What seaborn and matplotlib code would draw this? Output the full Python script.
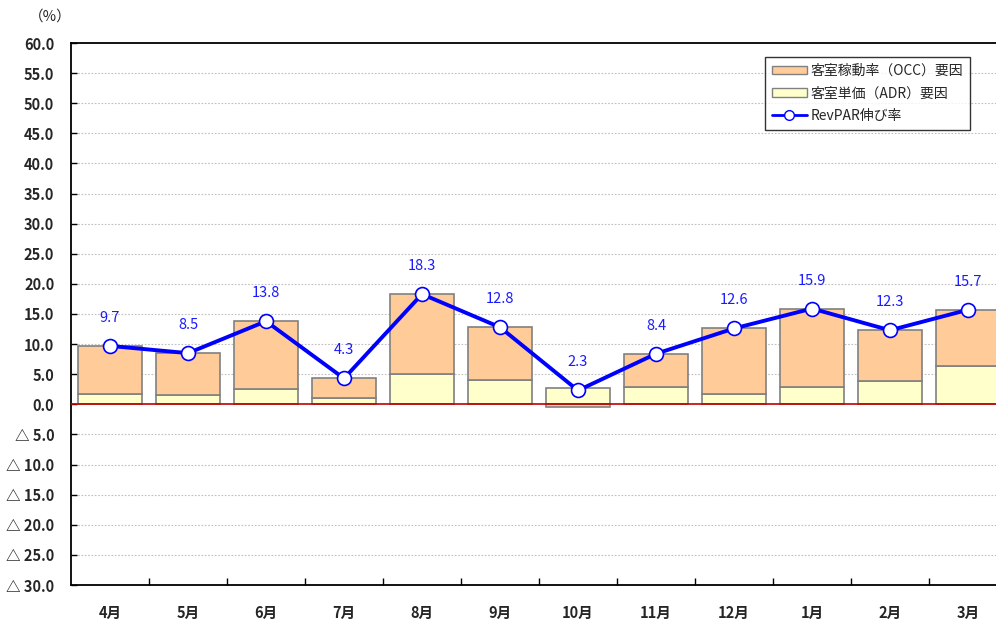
import matplotlib
matplotlib.use("Agg")
import matplotlib.pyplot as plt
import seaborn as sns
import numpy as np
import pandas as pd
from matplotlib.ticker import FuncFormatter
from matplotlib.patches import Patch
from matplotlib.lines import Line2D

months = ["4月", "5月", "6月", "7月", "8月", "9月", "10月", "11月", "12月", "1月", "2月", "3月"]
adr = [1.7, 1.6, 2.5, 1.1, 5.1, 4.1, 2.7, 2.8, 1.7, 2.8, 3.9, 6.3]
occ = [8.0, 6.9, 11.3, 3.2, 13.2, 8.7, -0.4, 5.6, 10.9, 13.1, 8.4, 9.4]
revpar = [9.7, 8.5, 13.8, 4.3, 18.3, 12.8, 2.3, 8.4, 12.6, 15.9, 12.3, 15.7]
yticks = np.arange(-30, 61, 5)

sns.set_theme(style="white")
plt.rcParams['font.family'] = ['Noto Sans CJK JP', 'DejaVu Sans']
plt.rcParams['xtick.direction'] = 'in'
plt.rcParams['ytick.direction'] = 'in'

fig = plt.figure(figsize=(9.96, 6.23), dpi=100)
ax = fig.add_axes([71/996, 1-585/623, 936/996, (585-43)/623])

df = pd.DataFrame({"month": months, "adr": adr, "occ": occ, "revpar": revpar})
bottoms = np.where(np.array(occ) >= 0, np.array(adr), 0.0)

sns.barplot(data=df, x="month", y="adr", color="#FFFFCC", edgecolor="#808080",
            linewidth=1.2, width=0.83, saturation=1, ax=ax, zorder=2)
sns.barplot(data=df, x="month", y="occ", color="#FFCC99", edgecolor="#808080",
            linewidth=1.2, width=0.83, saturation=1, ax=ax, bottom=bottoms, zorder=2)

xs = np.arange(len(months))
ax.plot(xs, revpar, color="#0000FF", lw=2.8, marker="o", markersize=10,
        markerfacecolor="white", markeredgecolor="#0000FF", markeredgewidth=1.2, zorder=5)
for x, v in zip(xs, revpar):
    ax.annotate(f"{v:.1f}", (x, v), xytext=(0, 21), textcoords="offset pixels",
                ha="center", va="bottom", color="#1A1AFF", fontsize=10.5)

ax.axhline(0, color="#C00000", lw=1.2, zorder=3)
ax.set_ylim(-30, 60)
ax.set_xlim(-0.5, 11.5)
ax.set_yticks(yticks)
ax.yaxis.set_major_formatter(FuncFormatter(lambda v, p: f"{v:.1f}" if v >= 0 else f"△ {abs(v):.1f}"))
for y in yticks:
    if y not in (0, 60, -30):
        ax.axhline(y, color="#BFBFBF", lw=0.8, ls=(0, (1.5, 1.5)), zorder=0)

ax.set_xticks(xs)
ax.set_xticklabels(months, fontweight="bold", fontsize=10.5)
ax.set_xticks(np.arange(0.5, 11.5, 1), minor=True)
ax.tick_params(axis="x", which="major", length=0, pad=14)
ax.tick_params(axis="x", which="minor", direction="in", length=5, width=1, color="black", bottom=True)
ax.tick_params(axis="y", direction="in", length=4, width=1, color="black", left=True, labelsize=10.5, pad=12)
for lab in ax.get_yticklabels():
    lab.set_fontweight("bold")
ax.set_xlabel("")
ax.set_ylabel("")

for s in ["left", "bottom", "top"]:
    ax.spines[s].set_visible(True)
    ax.spines[s].set_color("black")
    ax.spines[s].set_linewidth(1.3)
ax.spines["right"].set_visible(False)

fig.text(50/996, 1-17/623, "（%）", ha="center", va="center", fontsize=10.5)

handles = [Patch(facecolor="#FFCC99", edgecolor="#808080", lw=1),
           Patch(facecolor="#FFFFCC", edgecolor="#808080", lw=1),
           Line2D([0], [0], color="#0000FF", lw=2, marker="o", markersize=7,
                  markerfacecolor="white", markeredgecolor="#0000FF")]
leg = ax.legend(handles, ["客室稼動率（OCC）要因", "客室単価（ADR）要因", "RevPAR伸び率"],
                loc="upper left", bbox_to_anchor=(765/996, 1-57/623), bbox_transform=fig.transFigure,
                borderaxespad=0, frameon=True, fancybox=False, fontsize=10, handlelength=2.5,
                handleheight=0.6, borderpad=0.5, labelspacing=0.6, handletextpad=0.3)
leg.get_frame().set_edgecolor("black")
leg.get_frame().set_linewidth(1)

fig.savefig("out.png", dpi=100)
